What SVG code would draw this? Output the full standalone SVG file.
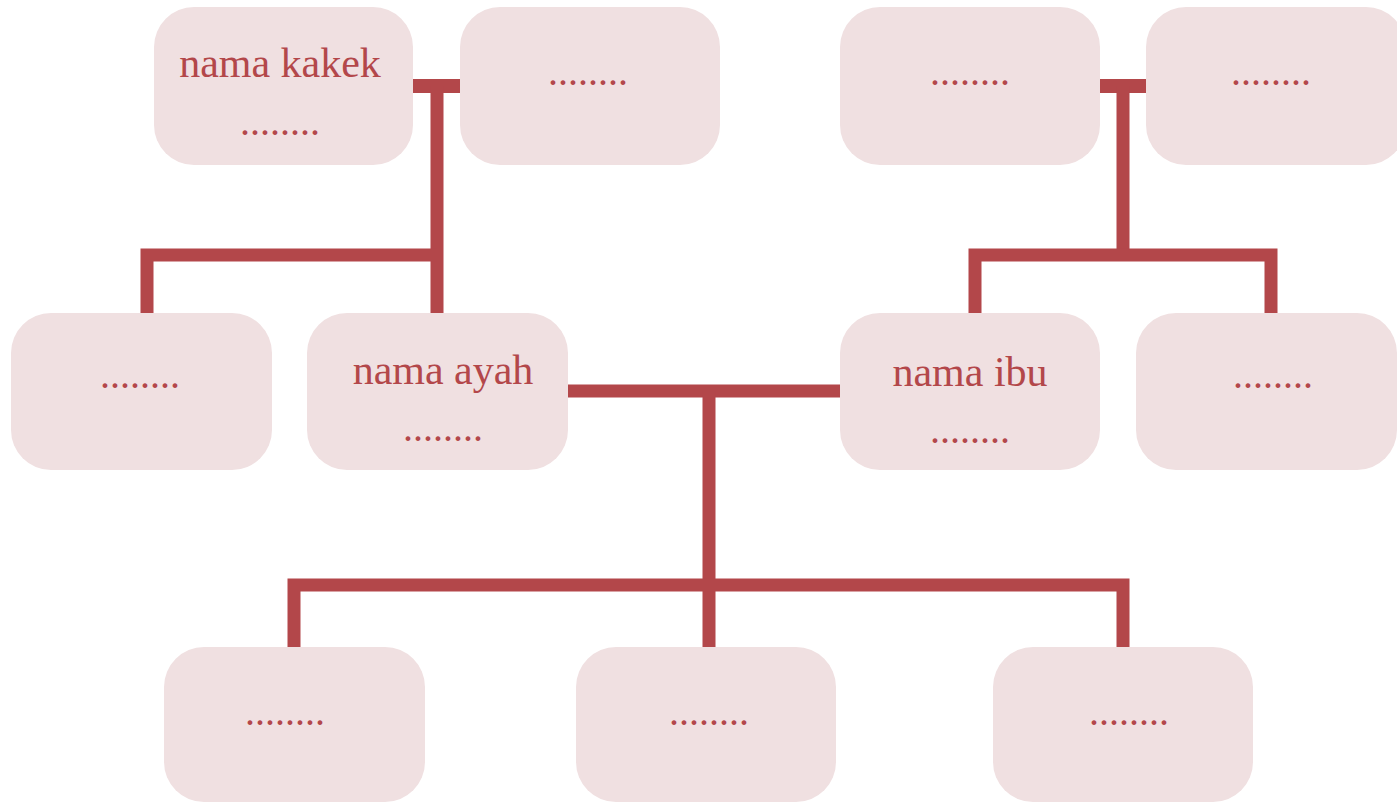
<svg xmlns="http://www.w3.org/2000/svg" width="1397" height="803" viewBox="0 0 1397 803">
<style>
.box{fill:#f0e0e1;}
.t{font-family:"Liberation Serif","DejaVu Serif",serif;font-size:40px;fill:#b3474a;text-anchor:middle;}
.n{font-size:42px;}
.c{fill:none;stroke:#b3474a;stroke-width:13;stroke-linecap:butt;stroke-linejoin:miter;}
.cb{stroke-width:14;}
</style>
<rect width="1397" height="803" fill="#ffffff"/>
<g id="connectors">
<path class="c cb" d="M410 86 H463"/>
<path class="c" d="M437 86 V316"/>
<path class="c" d="M147 316 V255 H437"/>
<path class="c cb" d="M1097 86 H1149"/>
<path class="c" d="M1123 86 V255"/>
<path class="c" d="M975 316 V255 H1271 V316"/>
<path class="c" d="M565 391 H843"/>
<path class="c" d="M709 391 V650"/>
<path class="c" d="M294 650 V585 H1123 V650"/>
</g>
<g id="node-kakek"><rect class="box" x="154" y="7" width="259" height="158" rx="40"/><text class="t n" x="280" y="77">nama kakek</text><text class="t" x="280" y="135">........</text></g>
<g id="node-nenek1"><rect class="box" x="460" y="7" width="260" height="158" rx="40"/><text class="t" x="588" y="85">........</text></g>
<g id="node-kakek2"><rect class="box" x="840" y="7" width="260" height="158" rx="40"/><text class="t" x="970" y="85">........</text></g>
<g id="node-nenek2"><rect class="box" x="1146" y="7" width="260" height="158" rx="40"/><text class="t" x="1271" y="85">........</text></g>
<g id="node-paman"><rect class="box" x="11" y="313" width="261" height="157" rx="40"/><text class="t" x="140" y="388">........</text></g>
<g id="node-ayah"><rect class="box" x="307" y="313" width="261" height="157" rx="40"/><text class="t n" x="443" y="384">nama ayah</text><text class="t" x="443" y="441">........</text></g>
<g id="node-ibu"><rect class="box" x="840" y="313" width="260" height="157" rx="40"/><text class="t n" x="970" y="386">nama ibu</text><text class="t" x="970" y="443">........</text></g>
<g id="node-bibi"><rect class="box" x="1136" y="313" width="261" height="157" rx="40"/><text class="t" x="1273" y="388">........</text></g>
<g id="node-anak1"><rect class="box" x="164" y="647" width="261" height="155" rx="40"/><text class="t" x="285" y="725">........</text></g>
<g id="node-anak2"><rect class="box" x="576" y="647" width="260" height="155" rx="40"/><text class="t" x="709" y="725">........</text></g>
<g id="node-anak3"><rect class="box" x="993" y="647" width="260" height="155" rx="40"/><text class="t" x="1129" y="725">........</text></g>
</svg>
